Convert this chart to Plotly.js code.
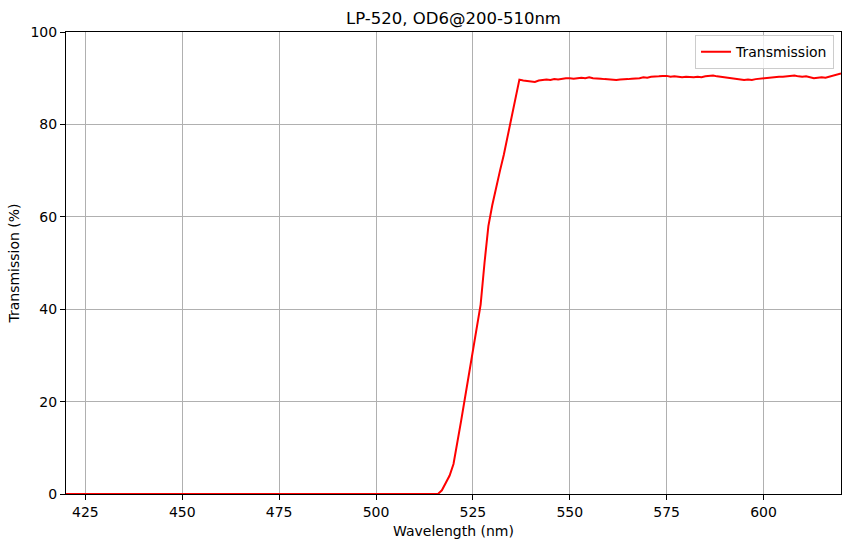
<!DOCTYPE html>
<html>
<head>
<meta charset="utf-8">
<script src="https://cdn.plot.ly/plotly-3.0.1.min.js"></script>
<style>
  html, body { margin: 0; padding: 0; background: #fff; }
  #chart { width: 850px; height: 547px; }
</style>
</head>
<body>
<div id="chart"></div>
<script>
// wavelength (nm) and transmission (%)
const wavelength = [
  420, 450, 480, 510, 516, 517, 518, 519, 520, 521, 522, 523, 524, 525, 526, 527, 528, 529, 530,
  531, 532, 533, 534, 535, 536, 537, 538, 539, 540, 541, 542, 543, 544, 545, 546, 547, 548, 549, 550,
  551, 552, 553, 554, 555, 556, 557, 558, 559, 560, 561, 562, 563, 564, 565, 566, 567, 568, 569, 570,
  571, 572, 573, 574, 575, 576, 577, 578, 579, 580, 581, 582, 583, 584, 585, 586, 587, 588, 589, 590,
  591, 592, 593, 594, 595, 596, 597, 598, 599, 600, 601, 602, 603, 604, 605, 606, 607, 608, 609, 610,
  611, 612, 613, 614, 615, 616, 617, 618, 619, 620
];
const transmission = [
  0, 0, 0, 0, 0, 0.8, 2.3, 4.0, 6.5, 11, 16, 21, 26, 31, 36, 41, 50, 58, 62.5,
  66.5, 70, 73.5, 77.5, 81.5, 86, 89.7, 89.5, 89.4, 89.3, 89.2, 89.5, 89.6, 89.7, 89.6, 89.8, 89.7, 89.9, 90.0, 90.0,
  89.9, 90.0, 90.1, 90.0, 90.2, 90.0, 90.0, 89.9, 89.8, 89.7, 89.7, 89.6, 89.7, 89.7, 89.8, 89.9, 89.9, 90.0, 90.2, 90.1,
  90.3, 90.3, 90.4, 90.5, 90.5, 90.3, 90.4, 90.3, 90.2, 90.3, 90.2, 90.2, 90.3, 90.2, 90.4, 90.5, 90.6, 90.4, 90.3, 90.2,
  90.0, 89.9, 89.8, 89.7, 89.6, 89.7, 89.6, 89.8, 89.9, 90.0, 90.1, 90.1, 90.2, 90.3, 90.3, 90.4, 90.5, 90.6, 90.4, 90.3,
  90.4, 90.2, 90.0, 90.1, 90.2, 90.1, 90.3, 90.6, 90.8, 91.0
];
const xTicks = [425, 450, 475, 500, 525, 550, 575, 600];
const yTicks = [0, 20, 40, 60, 80, 100];

const trace = {
  x: wavelength,
  y: transmission,
  type: 'scatter',
  mode: 'lines',
  name: 'Transmission',
  line: { color: '#ff0000', width: 2 }
};

const axisStyle = {
  showline: true,
  linecolor: '#000',
  linewidth: 1,
  mirror: true,
  ticks: 'outside',
  ticklen: 5,
  tickwidth: 1,
  tickcolor: '#000',
  showgrid: true,
  gridcolor: '#b0b0b0',
  gridwidth: 1,
  zeroline: false,
  tickfont: { family: 'DejaVu Sans', size: 14, color: '#000' }
};

const layout = {
  width: 850,
  height: 547,
  margin: { l: 66, r: 9, t: 32, b: 53 },
  paper_bgcolor: '#fff',
  plot_bgcolor: '#fff',
  font: { family: 'DejaVu Sans', color: '#000' },
  title: {
    text: 'LP-520, OD6@200-510nm',
    font: { family: 'DejaVu Sans', size: 16.5, color: '#000' },
    x: 0.5, xref: 'paper', xanchor: 'center',
    y: 0.967, yref: 'container', yanchor: 'middle'
  },
  xaxis: Object.assign({}, axisStyle, {
    range: [420, 620],
    tickvals: xTicks,
    title: { text: 'Wavelength (nm)', font: { family: 'DejaVu Sans', size: 14 }, standoff: 7 }
  }),
  yaxis: Object.assign({}, axisStyle, {
    range: [0, 100],
    tickvals: yTicks,
    title: { text: 'Transmission (%)', font: { family: 'DejaVu Sans', size: 14 }, standoff: 7 }
  }),
  showlegend: true,
  legend: {
    x: 0.991, xanchor: 'right',
    y: 0.993, yanchor: 'top',
    bgcolor: 'rgba(255,255,255,0.8)',
    bordercolor: '#cccccc',
    borderwidth: 1,
    font: { family: 'DejaVu Sans', size: 14 }
  }
};

Plotly.newPlot('chart', [trace], layout, { displayModeBar: false, staticPlot: true });
</script>
</body>
</html>
